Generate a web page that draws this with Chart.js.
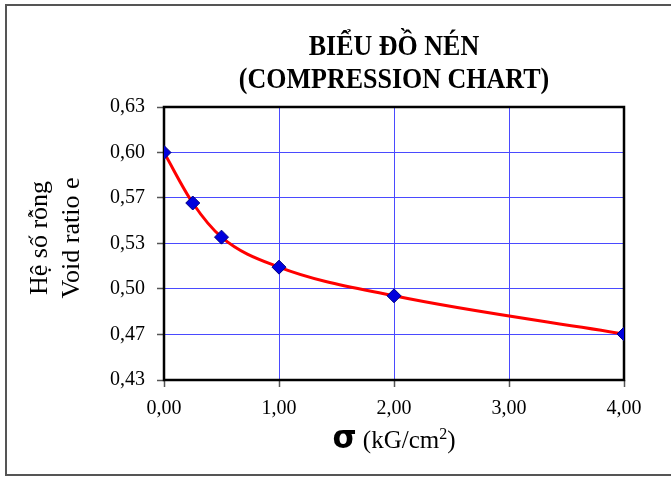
<!DOCTYPE html>
<html>
<head>
<meta charset="utf-8">
<script src="https://cdn.jsdelivr.net/npm/chart.js@4.4.1/dist/chart.umd.min.js"></script>
<style>
    html, body { margin: 0; padding: 0; background: #fff; }
    #wrap { position: relative; width: 671px; height: 477px; }
</style>
</head>
<body>
<div id="wrap"><canvas id="compressionChart" width="671" height="477"></canvas></div>
<script>
// pressure sigma (kG/cm2) and void ratio e
const sigmaValues = [0, 0.25, 0.5, 1, 2, 4];
const voidRatioValues = [0.600, 0.563, 0.538, 0.516, 0.495, 0.467];

const xTickValues = [0, 1, 2, 3, 4];
const xTickLabels = ['0,00', '1,00', '2,00', '3,00', '4,00'];
const yTickValues = [0.43333, 0.46667, 0.5, 0.53333, 0.56667, 0.6, 0.63333];
const yTickLabels = ['0,43', '0,47', '0,50', '0,53', '0,57', '0,60', '0,63'];

const titleLines = ['BIỂU ĐỒ NÉN', '(COMPRESSION CHART)'];
const yTitleLines = ['Hệ số rỗng', 'Void ratio e'];

const serif = '"Liberation Serif", "Times New Roman", serif';

// frame round the chart, box round the plot, titles
const framePlugin = {
    id: 'frame',
    beforeDraw(chart) {
        const ctx = chart.ctx;
        ctx.save();
        ctx.fillStyle = '#fff';
        ctx.fillRect(0, 0, chart.width, chart.height);
        ctx.fillStyle = '#555';
        ctx.fillRect(5, 4, chart.width, 2);   // top
        ctx.fillRect(5, 4, 2, 472);           // left
        ctx.fillRect(5, 474, chart.width, 2); // bottom
        ctx.restore();
    },
    beforeDatasetsDraw(chart) {
        const a = chart.chartArea;
        const ctx = chart.ctx;
        ctx.save();
        ctx.strokeStyle = '#000';
        ctx.lineWidth = 2.5;
        ctx.strokeRect(a.left, a.top, a.right - a.left, a.bottom - a.top);
        ctx.restore();
    },
    afterDraw(chart) {
        const a = chart.chartArea;
        const ctx = chart.ctx;
        const cx = (a.left + a.right) / 2;

        // chart title, a little taller than wide like the original
        ctx.save();
        ctx.fillStyle = '#000';
        ctx.textAlign = 'center';
        ctx.textBaseline = 'alphabetic';
        ctx.font = 'bold 26px ' + serif;
        ctx.translate(cx, 0);
        ctx.scale(1, 1.1);
        ctx.fillText(titleLines[0], 0, 55 / 1.1);
        ctx.fillText(titleLines[1], 0, 88 / 1.1);
        ctx.restore();

        // y axis title, two rotated lines
        ctx.save();
        ctx.fillStyle = '#000';
        ctx.textAlign = 'center';
        ctx.textBaseline = 'middle';
        ctx.font = '26px ' + serif;
        ctx.translate(0, 238);
        ctx.rotate(-Math.PI / 2);
        ctx.fillText(yTitleLines[0], 0, 40);
        ctx.fillText(yTitleLines[1], 0, 72);
        ctx.restore();

        // x axis title: bold sigma then the unit
        ctx.save();
        ctx.fillStyle = '#000';
        ctx.textBaseline = 'alphabetic';
        const sig = 'σ';
        const unit = ' (kG/cm';
        const sigFont = 'bold 31px "DejaVu Sans", sans-serif';
        const txtFont = '25px ' + serif;
        const supFont = '16px ' + serif;
        ctx.font = sigFont;
        const wSig = ctx.measureText(sig).width;
        ctx.font = txtFont;
        const wUnit = ctx.measureText(unit).width;
        const wClose = ctx.measureText(')').width;
        ctx.font = supFont;
        const wSup = ctx.measureText('2').width;
        const total = wSig + wUnit + wSup + wClose;
        let x = cx - total / 2;
        const y = 448;
        ctx.font = sigFont;
        ctx.fillText(sig, x, y);
        x += wSig;
        ctx.font = txtFont;
        ctx.fillText(unit, x, y);
        x += wUnit;
        ctx.font = supFont;
        ctx.fillText('2', x, y - 9);
        x += wSup;
        ctx.font = txtFont;
        ctx.fillText(')', x, y);
        ctx.restore();
    }
};

new Chart(document.getElementById('compressionChart'), {
    type: 'line',
    data: {
        datasets: [{
            data: sigmaValues.map((s, i) => ({ x: s, y: voidRatioValues[i] })),
            borderColor: '#ff0000',
            borderWidth: 3,
            tension: 0.35,
            cubicInterpolationMode: 'monotone',
            pointStyle: 'rectRot',
            pointRadius: 7,
            pointBackgroundColor: '#0000dd',
            pointBorderColor: '#000080',
            pointBorderWidth: 1,
            fill: false
        }]
    },
    options: {
        responsive: false,
        animation: false,
        layout: { padding: { left: 0, right: 47, top: 107, bottom: 0 } },
        plugins: {
            legend: { display: false },
            tooltip: { enabled: false },
            title: { display: false }
        },
        scales: {
            x: {
                type: 'linear',
                min: 0,
                max: 4,
                afterBuildTicks: scale => { scale.ticks = xTickValues.map(v => ({ value: v })); },
                afterFit: scale => { scale.height = 97; },
                ticks: {
                    color: '#000',
                    font: { family: serif, size: 20 },
                    padding: 10,
                    maxRotation: 0,
                    callback: (v, i) => xTickLabels[i]
                },
                grid: {
                    color: '#4a4aff',
                    lineWidth: 1,
                    tickLength: 7,
                    tickColor: '#555',
                    tickWidth: 1.5
                },
                border: { display: false }
            },
            y: {
                type: 'linear',
                min: 0.43333,
                max: 0.63333,
                afterBuildTicks: scale => { scale.ticks = yTickValues.map(v => ({ value: v })); },
                afterFit: scale => { scale.width = 164; },
                ticks: {
                    color: '#000',
                    font: { family: serif, size: 20 },
                    padding: 12,
                    callback: (v, i) => yTickLabels[i]
                },
                grid: {
                    color: '#4a4aff',
                    lineWidth: 1,
                    tickLength: 7,
                    tickColor: '#555',
                    tickWidth: 1.5
                },
                border: { display: false },
                title: { display: false }
            }
        }
    },
    plugins: [framePlugin]
});
</script>
</body>
</html>
